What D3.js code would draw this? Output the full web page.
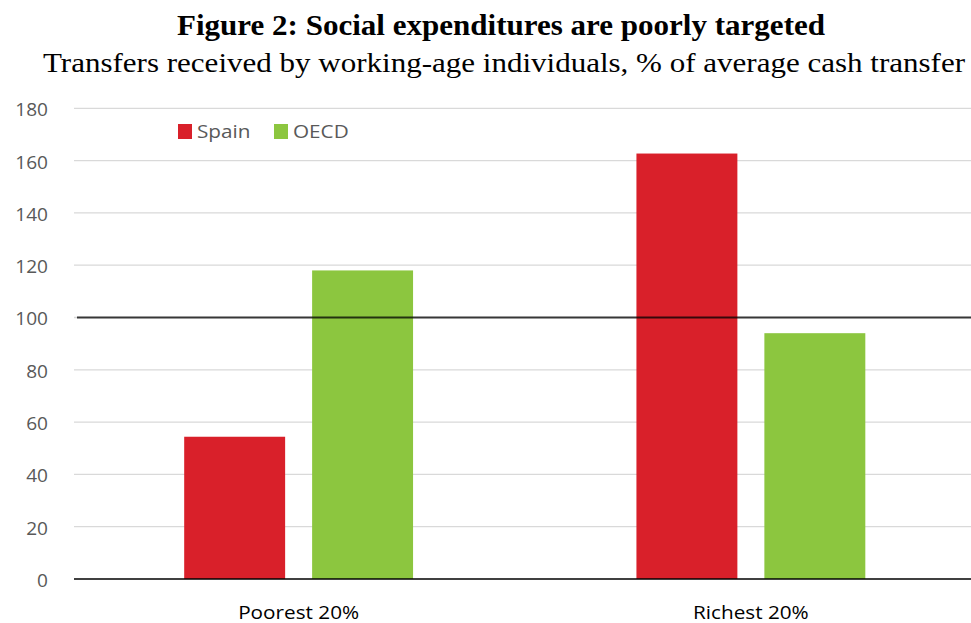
<!DOCTYPE html>
<html><head><meta charset="utf-8">
<script src="https://cdn.jsdelivr.net/npm/d3@7"></script>
<style>body{margin:0;background:#fff}svg{display:block}</style>
</head><body>
<svg id="c" width="971" height="623"></svg>
<script>
const categories = ["Poorest 20%", "Richest 20%"];
const seriesNames = ["Spain", "OECD"];
const spain = [54.4, 162.7];
const oecd = [118, 94];
const yTicks = [0, 20, 40, 60, 80, 100, 120, 140, 160, 180];
const refValue = 100;
const colors = ["#D9202A", "#8CC63F"];

const svg = d3.select("#c");
const W = 971;
const x0 = d3.scaleBand().domain(categories).range([72.5, 977]).paddingInner(0).paddingOuter(0);
const x1 = d3.scaleBand().domain(seriesNames).range([0, x0.bandwidth()]).paddingInner(0.211).paddingOuter(0.873);
const y = d3.scaleLinear().domain([0, 180]).range([579, 108.3]);

function stretch(sel, k) {
  sel.each(function() {
    const w = this.getComputedTextLength();
    d3.select(this).attr("textLength", w * k).attr("lengthAdjust", "spacingAndGlyphs");
  });
}

const t1 = svg.append("text").attr("x", 501).attr("y", 35).attr("text-anchor", "middle")
  .attr("font-family", "Liberation Serif").attr("font-weight", "bold").attr("font-size", 28.5)
  .attr("fill", "#000").text("Figure 2: Social expenditures are poorly targeted");
t1.attr("textLength", 648).attr("lengthAdjust", "spacingAndGlyphs");
const t2 = svg.append("text").attr("x", 504).attr("y", 72).attr("text-anchor", "middle")
  .attr("font-family", "Liberation Serif").attr("font-size", 27.5)
  .attr("fill", "#000").text("Transfers received by working-age individuals, % of average cash transfer");
t2.attr("textLength", 922).attr("lengthAdjust", "spacingAndGlyphs");

// gridlines
svg.append("g").selectAll("line").data(yTicks.filter(d => d > 0)).join("line")
  .attr("x1", 74).attr("x2", W).attr("y1", d => y(d)).attr("y2", d => y(d))
  .attr("stroke", "#d9d9d9").attr("stroke-width", 1.3);

// y axis labels
const yAxis = d3.axisLeft(y).tickValues(yTicks).tickSize(0).tickPadding(0);
const gy = svg.append("g").attr("transform", "translate(48,0)").call(yAxis);
gy.select(".domain").remove();
gy.selectAll("text").attr("font-family", "Open Sans").attr("font-size", 18.5).attr("fill", "#595959").attr("dy", "0.4em");
stretch(gy.selectAll("text"), 1.03);

// bars
const data = categories.map((c, i) => ({cat: c, vals: [spain[i], oecd[i]]}));
const g = svg.append("g").selectAll("g").data(data).join("g")
  .attr("transform", d => `translate(${x0(d.cat)},0)`);
g.selectAll("rect").data(d => d.vals.map((v, j) => ({s: seriesNames[j], v, j}))).join("rect")
  .attr("x", d => x1(d.s)).attr("width", x1.bandwidth())
  .attr("y", d => y(d.v)).attr("height", d => y(0) - y(d.v))
  .attr("fill", d => colors[d.j]);

// baseline
svg.append("line").attr("x1", 74).attr("x2", W).attr("y1", y(0)).attr("y2", y(0))
  .attr("stroke", "#000").attr("stroke-width", 1.5);
// reference line at 100
svg.append("line").attr("x1", 77).attr("x2", W).attr("y1", y(refValue)).attr("y2", y(refValue))
  .attr("stroke", "#000").attr("stroke-opacity", 0.75).attr("stroke-width", 2);

// x axis labels
const xAxis = d3.axisBottom(x0).tickSize(0).tickPadding(0);
const gx = svg.append("g").attr("transform", `translate(0,${y(0)})`).call(xAxis);
gx.select(".domain").remove();
gx.selectAll("text").attr("font-family", "Open Sans").attr("font-size", 18.5).attr("fill", "#000")
  .attr("dy", null).attr("y", 40);
stretch(gx.selectAll("text"), 1.12);

// legend
const leg = svg.append("g").attr("transform", "translate(178,124)");
const li = leg.selectAll("g").data(seriesNames).join("g").attr("transform", (d, i) => `translate(${i * 96},0)`);
li.append("rect").attr("width", 14).attr("height", 15).attr("fill", (d, i) => colors[i]);
const lt = li.append("text").attr("x", 19).attr("y", 14).attr("font-family", "Open Sans")
  .attr("font-size", 18).attr("fill", "#595959").text(d => d);
stretch(lt, 1.15);
</script>
</body></html>
